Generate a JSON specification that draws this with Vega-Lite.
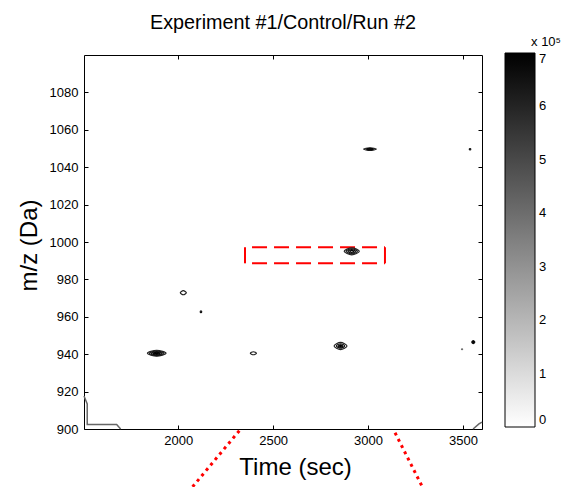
{
  "$schema": "https://vega.github.io/schema/vega-lite/v6.json",
  "width": 398,
  "height": 374,
  "autosize": {"type": "none"},
  "padding": {"left": 84, "top": 55, "right": 89, "bottom": 58},
  "background": "white",
  "title": {"text": "Experiment #1/Control/Run #2", "fontSize": 19.8, "fontWeight": "normal", "font": "Liberation Sans", "color": "black", "anchor": "middle", "offset": 3},
  "datasets": {
    "blobs": [
      {"id": "e1", "k": 0, "t": 1838, "mz": 940.5, "lvl": 600000}, {"id": "e1", "k": 1, "t": 1887, "mz": 942.1, "lvl": 600000}, {"id": "e1", "k": 2, "t": 1936, "mz": 940.5, "lvl": 600000}, {"id": "e1", "k": 3, "t": 1887, "mz": 938.9, "lvl": 600000},
      {"id": "e2", "k": 0, "t": 1848, "mz": 940.5, "lvl": 630000}, {"id": "e2", "k": 1, "t": 1887, "mz": 941.75, "lvl": 630000}, {"id": "e2", "k": 2, "t": 1926, "mz": 940.5, "lvl": 630000}, {"id": "e2", "k": 3, "t": 1887, "mz": 939.25, "lvl": 630000},
      {"id": "e3", "k": 0, "t": 1858, "mz": 940.5, "lvl": 660000}, {"id": "e3", "k": 1, "t": 1887, "mz": 941.4, "lvl": 660000}, {"id": "e3", "k": 2, "t": 1916, "mz": 940.5, "lvl": 660000}, {"id": "e3", "k": 3, "t": 1887, "mz": 939.6, "lvl": 660000},
      {"id": "e4", "k": 0, "t": 1869, "mz": 940.5, "lvl": 680000}, {"id": "e4", "k": 1, "t": 1887, "mz": 941.05, "lvl": 680000}, {"id": "e4", "k": 2, "t": 1905, "mz": 940.5, "lvl": 680000}, {"id": "e4", "k": 3, "t": 1887, "mz": 939.95, "lvl": 680000},
      {"id": "e5", "k": 0, "t": 1879, "mz": 940.5, "lvl": 700000}, {"id": "e5", "k": 1, "t": 1887, "mz": 940.75, "lvl": 700000}, {"id": "e5", "k": 2, "t": 1895, "mz": 940.5, "lvl": 700000}, {"id": "e5", "k": 3, "t": 1887, "mz": 940.25, "lvl": 700000},
      {"id": "e6", "k": 0, "t": 2821, "mz": 944.4, "lvl": 600000}, {"id": "e6", "k": 1, "t": 2855, "mz": 946.3, "lvl": 600000}, {"id": "e6", "k": 2, "t": 2889, "mz": 944.4, "lvl": 600000}, {"id": "e6", "k": 3, "t": 2855, "mz": 942.5, "lvl": 600000},
      {"id": "e7", "k": 0, "t": 2833, "mz": 944.4, "lvl": 640000}, {"id": "e7", "k": 1, "t": 2855, "mz": 945.6, "lvl": 640000}, {"id": "e7", "k": 2, "t": 2877, "mz": 944.4, "lvl": 640000}, {"id": "e7", "k": 3, "t": 2855, "mz": 943.2, "lvl": 640000},
      {"id": "e8", "k": 0, "t": 2843, "mz": 944.4, "lvl": 680000}, {"id": "e8", "k": 1, "t": 2855, "mz": 945.05, "lvl": 680000}, {"id": "e8", "k": 2, "t": 2867, "mz": 944.4, "lvl": 680000}, {"id": "e8", "k": 3, "t": 2855, "mz": 943.75, "lvl": 680000},
      {"id": "e9", "k": 0, "t": 2850, "mz": 944.4, "lvl": 700000}, {"id": "e9", "k": 1, "t": 2855, "mz": 944.7, "lvl": 700000}, {"id": "e9", "k": 2, "t": 2860, "mz": 944.4, "lvl": 700000}, {"id": "e9", "k": 3, "t": 2855, "mz": 944.1, "lvl": 700000},
      {"id": "e10", "k": 0, "t": 2874, "mz": 995.0, "lvl": 600000}, {"id": "e10", "k": 1, "t": 2914, "mz": 996.9, "lvl": 600000}, {"id": "e10", "k": 2, "t": 2954, "mz": 995.0, "lvl": 600000}, {"id": "e10", "k": 3, "t": 2914, "mz": 993.1, "lvl": 600000},
      {"id": "e11", "k": 0, "t": 2884, "mz": 995.0, "lvl": 640000}, {"id": "e11", "k": 1, "t": 2914, "mz": 996.4, "lvl": 640000}, {"id": "e11", "k": 2, "t": 2944, "mz": 995.0, "lvl": 640000}, {"id": "e11", "k": 3, "t": 2914, "mz": 993.6, "lvl": 640000},
      {"id": "e12", "k": 0, "t": 2894, "mz": 995.0, "lvl": 670000}, {"id": "e12", "k": 1, "t": 2914, "mz": 995.95, "lvl": 670000}, {"id": "e12", "k": 2, "t": 2934, "mz": 995.0, "lvl": 670000}, {"id": "e12", "k": 3, "t": 2914, "mz": 994.05, "lvl": 670000},
      {"id": "e13", "k": 0, "t": 2904, "mz": 995.0, "lvl": 700000}, {"id": "e13", "k": 1, "t": 2914, "mz": 995.5, "lvl": 700000}, {"id": "e13", "k": 2, "t": 2924, "mz": 995.0, "lvl": 700000}, {"id": "e13", "k": 3, "t": 2914, "mz": 994.5, "lvl": 700000},
      {"id": "e14", "k": 0, "t": 2976, "mz": 1049.7, "lvl": 620000}, {"id": "e14", "k": 1, "t": 3010, "mz": 1050.4, "lvl": 620000}, {"id": "e14", "k": 2, "t": 3044, "mz": 1049.7, "lvl": 620000}, {"id": "e14", "k": 3, "t": 3010, "mz": 1049.0, "lvl": 620000},
      {"id": "e15", "k": 0, "t": 2992, "mz": 1049.7, "lvl": 680000}, {"id": "e15", "k": 1, "t": 3010, "mz": 1050.05, "lvl": 680000}, {"id": "e15", "k": 2, "t": 3028, "mz": 1049.7, "lvl": 680000}, {"id": "e15", "k": 3, "t": 3010, "mz": 1049.35, "lvl": 680000},
      {"id": "e16", "k": 0, "t": 2011, "mz": 972.9, "lvl": 620000}, {"id": "e16", "k": 1, "t": 2027, "mz": 974.0, "lvl": 620000}, {"id": "e16", "k": 2, "t": 2043, "mz": 972.9, "lvl": 620000}, {"id": "e16", "k": 3, "t": 2027, "mz": 971.8, "lvl": 620000},
      {"id": "e17", "k": 0, "t": 2380, "mz": 940.5, "lvl": 620000}, {"id": "e17", "k": 1, "t": 2396, "mz": 941.3, "lvl": 620000}, {"id": "e17", "k": 2, "t": 2412, "mz": 940.5, "lvl": 620000}, {"id": "e17", "k": 3, "t": 2396, "mz": 939.7, "lvl": 620000},
      {"id": "e18", "k": 0, "t": 2116, "mz": 962.7, "lvl": 650000}, {"id": "e18", "k": 1, "t": 2120, "mz": 963.2, "lvl": 650000}, {"id": "e18", "k": 2, "t": 2124, "mz": 962.7, "lvl": 650000}, {"id": "e18", "k": 3, "t": 2120, "mz": 962.2, "lvl": 650000},
      {"id": "e19", "k": 0, "t": 3533, "mz": 1049.6, "lvl": 650000}, {"id": "e19", "k": 1, "t": 3537, "mz": 1050.0, "lvl": 650000}, {"id": "e19", "k": 2, "t": 3541, "mz": 1049.6, "lvl": 650000}, {"id": "e19", "k": 3, "t": 3537, "mz": 1049.2, "lvl": 650000},
      {"id": "e20", "k": 0, "t": 3546, "mz": 946.5, "lvl": 650000}, {"id": "e20", "k": 1, "t": 3554, "mz": 947.3, "lvl": 650000}, {"id": "e20", "k": 2, "t": 3562, "mz": 946.5, "lvl": 650000}, {"id": "e20", "k": 3, "t": 3554, "mz": 945.7, "lvl": 650000},
      {"id": "e21", "k": 0, "t": 3550, "mz": 946.5, "lvl": 700000}, {"id": "e21", "k": 1, "t": 3554, "mz": 946.9, "lvl": 700000}, {"id": "e21", "k": 2, "t": 3558, "mz": 946.5, "lvl": 700000}, {"id": "e21", "k": 3, "t": 3554, "mz": 946.1, "lvl": 700000},
      {"id": "e22", "k": 0, "t": 3492, "mz": 942.6, "lvl": 400000}, {"id": "e22", "k": 1, "t": 3495, "mz": 942.8, "lvl": 400000}, {"id": "e22", "k": 2, "t": 3498, "mz": 942.6, "lvl": 400000}, {"id": "e22", "k": 3, "t": 3495, "mz": 942.4, "lvl": 400000}
    ],
    "edges": [
      {"id": "c1", "k": 0, "t": 1504, "mz": 917.6},
      {"id": "c1", "k": 1, "t": 1521, "mz": 913.4},
      {"id": "c1", "k": 2, "t": 1521, "mz": 902.4},
      {"id": "c1", "k": 3, "t": 1676, "mz": 902.4},
      {"id": "c1", "k": 4, "t": 1697, "mz": 900.0},
      {"id": "c2", "k": 0, "t": 3553, "mz": 900.0},
      {"id": "c2", "k": 1, "t": 3584, "mz": 902.7},
      {"id": "c2", "k": 2, "t": 3600, "mz": 903.7}
    ],
    "boxh": [
      {"t": 2352, "t2": 3089, "mz": 997.2},
      {"t": 2352, "t2": 3089, "mz": 988.6}
    ],
    "boxv": [
      {"t": 2352, "mz": 988.6, "mz2": 997.2},
      {"t": 3089, "mz": 988.6, "mz2": 997.2}
    ],
    "zoomlines": [
      {"id": "L", "k": 0, "t": 2322, "mz": 899.1},
      {"id": "L", "k": 1, "t": 2057, "mz": 866.8},
      {"id": "R", "k": 0, "t": 3142, "mz": 898.0},
      {"id": "R", "k": 1, "t": 3297, "mz": 866.8}
    ]
  },
  "layer": [
    {
      "data": {"name": "boxh"},
      "mark": {"type": "rule", "color": "#ff0000", "strokeWidth": 2, "strokeDash": [15, 7], "strokeDashOffset": 15},
      "encoding": {
        "x": {"field": "t", "type": "quantitative", "scale": {"domain": [1504, 3600], "nice": false, "zero": false}, "axis": {"orient": "top", "labels": false, "title": null, "values": [2000, 2500, 3000, 3500], "offset": -4}},
        "x2": {"field": "t2"},
        "y": {"field": "mz", "type": "quantitative", "scale": {"domain": [900, 1100], "nice": false, "zero": false}, "axis": {"orient": "right", "labels": false, "title": null, "values": [900, 920, 940, 960, 980, 1000, 1020, 1040, 1060, 1080], "offset": -4}}
      }
    },
    {
      "data": {"name": "boxv"},
      "mark": {"type": "rule", "color": "#ff0000", "strokeWidth": 2},
      "encoding": {
        "x": {"field": "t", "type": "quantitative", "scale": {"domain": [1504, 3600], "nice": false, "zero": false}, "axis": null},
        "y": {"field": "mz", "type": "quantitative", "scale": {"domain": [900, 1100], "nice": false, "zero": false}, "axis": null},
        "y2": {"field": "mz2"}
      }
    },
    {
      "data": {"name": "zoomlines"},
      "mark": {"type": "line", "color": "#ff0000", "strokeWidth": 3, "strokeDash": [3, 4], "strokeCap": "butt"},
      "encoding": {
        "x": {"field": "t", "type": "quantitative", "scale": {"domain": [1504, 3600], "nice": false, "zero": false}, "axis": null},
        "y": {"field": "mz", "type": "quantitative", "scale": {"domain": [900, 1100], "nice": false, "zero": false}, "axis": null},
        "detail": {"field": "id"},
        "order": {"field": "k"}
      }
    },
    {
      "data": {"name": "edges"},
      "mark": {"type": "line", "color": "#666666", "strokeWidth": 1.5},
      "encoding": {
        "x": {"field": "t", "type": "quantitative", "scale": {"domain": [1504, 3600], "nice": false, "zero": false}, "axis": null},
        "y": {"field": "mz", "type": "quantitative", "scale": {"domain": [900, 1100], "nice": false, "zero": false}, "axis": null},
        "detail": {"field": "id"},
        "order": {"field": "k"}
      }
    },
    {
      "data": {"name": "blobs"},
      "mark": {"type": "line", "interpolate": "cardinal-closed", "strokeWidth": 1.2},
      "encoding": {
        "x": {"field": "t", "type": "quantitative", "scale": {"domain": [1504, 3600], "nice": false, "zero": false}, "axis": {"orient": "bottom", "title": "Time (sec)", "values": [2000, 2500, 3000, 3500], "format": "d", "offset": -4, "titleX": 211, "titleAlign": "center"}},
        "y": {"field": "mz", "type": "quantitative", "scale": {"domain": [900, 1100], "nice": false, "zero": false}, "axis": {"orient": "left", "title": "m/z (Da)", "values": [900, 920, 940, 960, 980, 1000, 1020, 1040, 1060, 1080], "format": "d", "offset": -4, "titleY": 190, "titleAlign": "center"}},
        "detail": {"field": "id"},
        "order": {"field": "k"},
        "color": {
          "field": "lvl", "type": "quantitative",
          "scale": {"domain": [0, 700000], "range": ["#ffffff", "#000000"], "interpolate": "rgb"},
          "legend": {
            "orient": "none", "legendX": 421, "legendY": -19, "direction": "vertical",
            "gradientLength": 374, "gradientThickness": 30,
            "gradientStrokeColor": "black", "gradientStrokeWidth": 1,
            "title": "x 10\u2075",
            "titleFontSize": 13, "titleFontWeight": "normal", "titleFont": "Liberation Sans", "titleColor": "black", "titlePadding": 4,
            "titleAnchor": "end", "titleAlign": "center",
            "values": [0, 100000, 200000, 300000, 400000, 500000, 600000, 700000],
            "labelExpr": "format(datum.value/100000, 'd')",
            "labelFontSize": 13, "labelFont": "Liberation Sans", "labelColor": "black",
            "labelBaseline": "middle", "labelOffset": 4, "labelOverlap": false
          }
        }
      }
    }
  ],
  "config": {
    "font": "Liberation Sans",
    "view": {"stroke": "black", "strokeWidth": 1},
    "axis": {
      "grid": false, "domain": false,
      "tickColor": "black", "tickSize": 4, "tickWidth": 1,
      "labelFont": "Liberation Sans", "labelFontSize": 13, "labelColor": "black",
      "labelFlush": false, "labelOverlap": false, "labelBound": false,
      "titleFont": "Liberation Sans", "titleFontSize": 24, "titleFontWeight": "normal", "titleColor": "black"
    },
    "axisBottom": {"labelPadding": 5, "titlePadding": 8},
    "axisLeft": {"labelPadding": 6, "titlePadding": 8}
  }
}
